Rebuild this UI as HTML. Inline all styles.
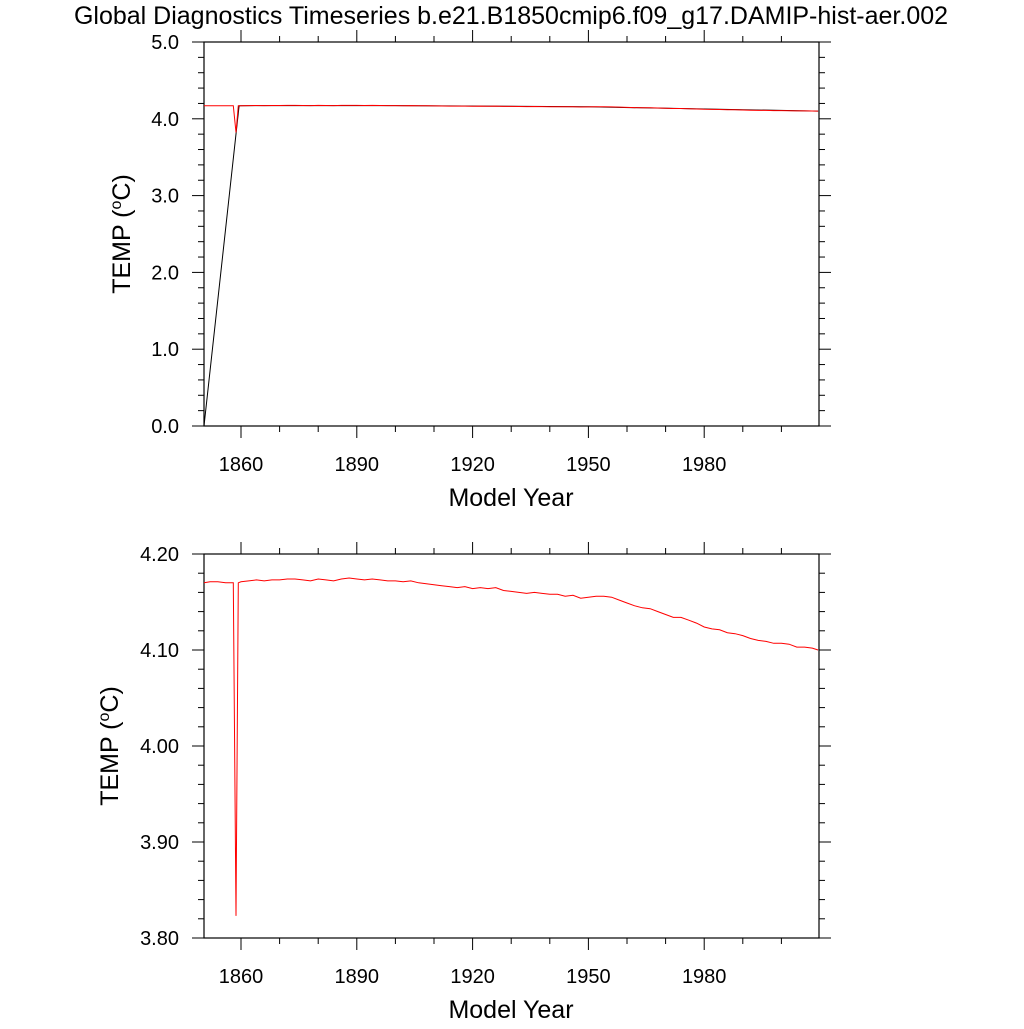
<!DOCTYPE html>
<html><head><meta charset="utf-8"><style>
body{margin:0;background:#fff}
svg text{font-family:"Liberation Sans",sans-serif;fill:#000}
</style></head><body>
<svg id="c" width="1024" height="1024" xmlns="http://www.w3.org/2000/svg">
<text x="511" y="24" font-size="25" text-anchor="middle">Global Diagnostics Timeseries b.e21.B1850cmip6.f09_g17.DAMIP-hist-aer.002</text>
</svg>
<script>
const years=[1850,1852,1854,1856,1858,1858.7,1859.3,1860,1862,1864,1866,1868,1870,1872,1874,1876,1878,1880,1882,1884,1886,1888,1890,1892,1894,1896,1898,1900,1902,1904,1906,1908,1910,1912,1914,1916,1918,1920,1922,1924,1926,1928,1930,1932,1934,1936,1938,1940,1942,1944,1946,1948,1950,1952,1954,1956,1958,1960,1962,1964,1966,1968,1970,1972,1974,1976,1978,1980,1982,1984,1986,1988,1990,1992,1994,1996,1998,2000,2002,2004,2006,2008,2009.5];
const redVals=[4.170,4.171,4.171,4.170,4.170,3.823,4.170,4.171,4.172,4.173,4.172,4.173,4.173,4.174,4.174,4.173,4.172,4.174,4.173,4.172,4.174,4.175,4.174,4.173,4.174,4.173,4.172,4.172,4.171,4.172,4.170,4.169,4.168,4.167,4.166,4.165,4.166,4.164,4.165,4.164,4.165,4.162,4.161,4.160,4.159,4.160,4.159,4.158,4.158,4.156,4.157,4.154,4.155,4.156,4.156,4.155,4.152,4.149,4.146,4.144,4.143,4.140,4.137,4.134,4.134,4.131,4.128,4.124,4.122,4.121,4.118,4.117,4.115,4.112,4.110,4.109,4.107,4.107,4.106,4.103,4.103,4.102,4.100];
const blackYears=[1850.4,1859.5,1870,1900,1950,2009.5];
const blackVals=[0.0,4.17,4.172,4.172,4.156,4.100];
const xTicks=[1860,1890,1920,1950,1980];
const topYTicks=[0,1,2,3,4,5];
const botYTicks=[3.8,3.9,4.0,4.1,4.2];
const NS="http://www.w3.org/2000/svg",svg=document.getElementById('c');
function mk(t,a,parent){const e=document.createElementNS(NS,t);for(const k in a)e.setAttribute(k,a[k]);(parent||svg).appendChild(e);return e;}
const X0=204,X1=819;
const xs=y=>241+(y-1860)*3.86;
function panel(top,bot,ymin,ymax,minorStep,majors,ylabX,name){
  const ys=v=>bot-(v-ymin)/(ymax-ymin)*(bot-top);
  const g=mk('g',{});
  
  
  const frame=mk('rect',{x:X0,y:top,width:X1-X0,height:bot-top,fill:'none',stroke:'#000','stroke-width':1.2},g);
  
  
  for(let yr=1850;yr<=2009;yr+=10){
    const x=xs(yr);if(x<X0)continue;
    const L=(xTicks.includes(yr))?12:6;
    mk('line',{x1:x,x2:x,y1:bot,y2:bot+L,stroke:'#000'},g);
    mk('line',{x1:x,x2:x,y1:top,y2:top-L,stroke:'#000'},g);
  }
  const n=Math.round((ymax-ymin)/minorStep);
  for(let i=0;i<=n;i++){
    const v=ymin+i*minorStep,y=ys(v);
    const major=majors.some(t=>Math.abs(t-v)<1e-6);
    const L=major?12:6;
    mk('line',{x1:X0,x2:X0-L,y1:y,y2:y,stroke:'#000'},g);
    mk('line',{x1:X1,x2:X1+L,y1:y,y2:y,stroke:'#000'},g);
  }
  xTicks.forEach(t=>{const e=mk('text',{x:xs(t),y:bot+45,'font-size':20,'text-anchor':'middle'},g);e.textContent=t;
    
    });
  const xt=mk('text',{x:511,y:bot+80,'font-size':25,'text-anchor':'middle'},g);xt.textContent='Model Year';
  
  
  const cy=(top+bot)/2;
  const yt=mk('text',{x:ylabX,y:cy,'font-size':25,'text-anchor':'middle',transform:`rotate(-90 ${ylabX} ${cy})`},g);
  yt.innerHTML='TEMP (<tspan font-size="16" dy="-9">o</tspan><tspan dy="9">C)</tspan>';
  
  
  return {g,ys};
}
const P1=panel(42,426,0,5,0.2,topYTicks,130,'top-panel');
topYTicks.forEach(t=>{const e=mk('text',{x:179,y:P1.ys(t)+7,'font-size':20,'text-anchor':'end'},P1.g);e.textContent=t.toFixed(1);
  
  });
const P2=panel(554,938,3.8,4.2,0.02,botYTicks,118,'bottom-panel');
botYTicks.forEach(t=>{const e=mk('text',{x:179,y:P2.ys(t)+7,'font-size':20,'text-anchor':'end'},P2.g);e.textContent=t.toFixed(2);
  
  });
function line(P,xv,yv,col,name){
  const d=xv.map((x,i)=>(i?'L':'M')+Math.max(X0,xs(x)).toFixed(1)+','+P.ys(yv[i]).toFixed(1)).join('');
  const p=mk('path',{d,fill:'none',stroke:col,'stroke-width':1},P.g);
  
  
}
line(P1,blackYears,blackVals,'#000','black-series');
line(P1,years,redVals,'#f00','red-series');
line(P2,years,redVals,'#f00','red-series');
</script>
</body></html>
